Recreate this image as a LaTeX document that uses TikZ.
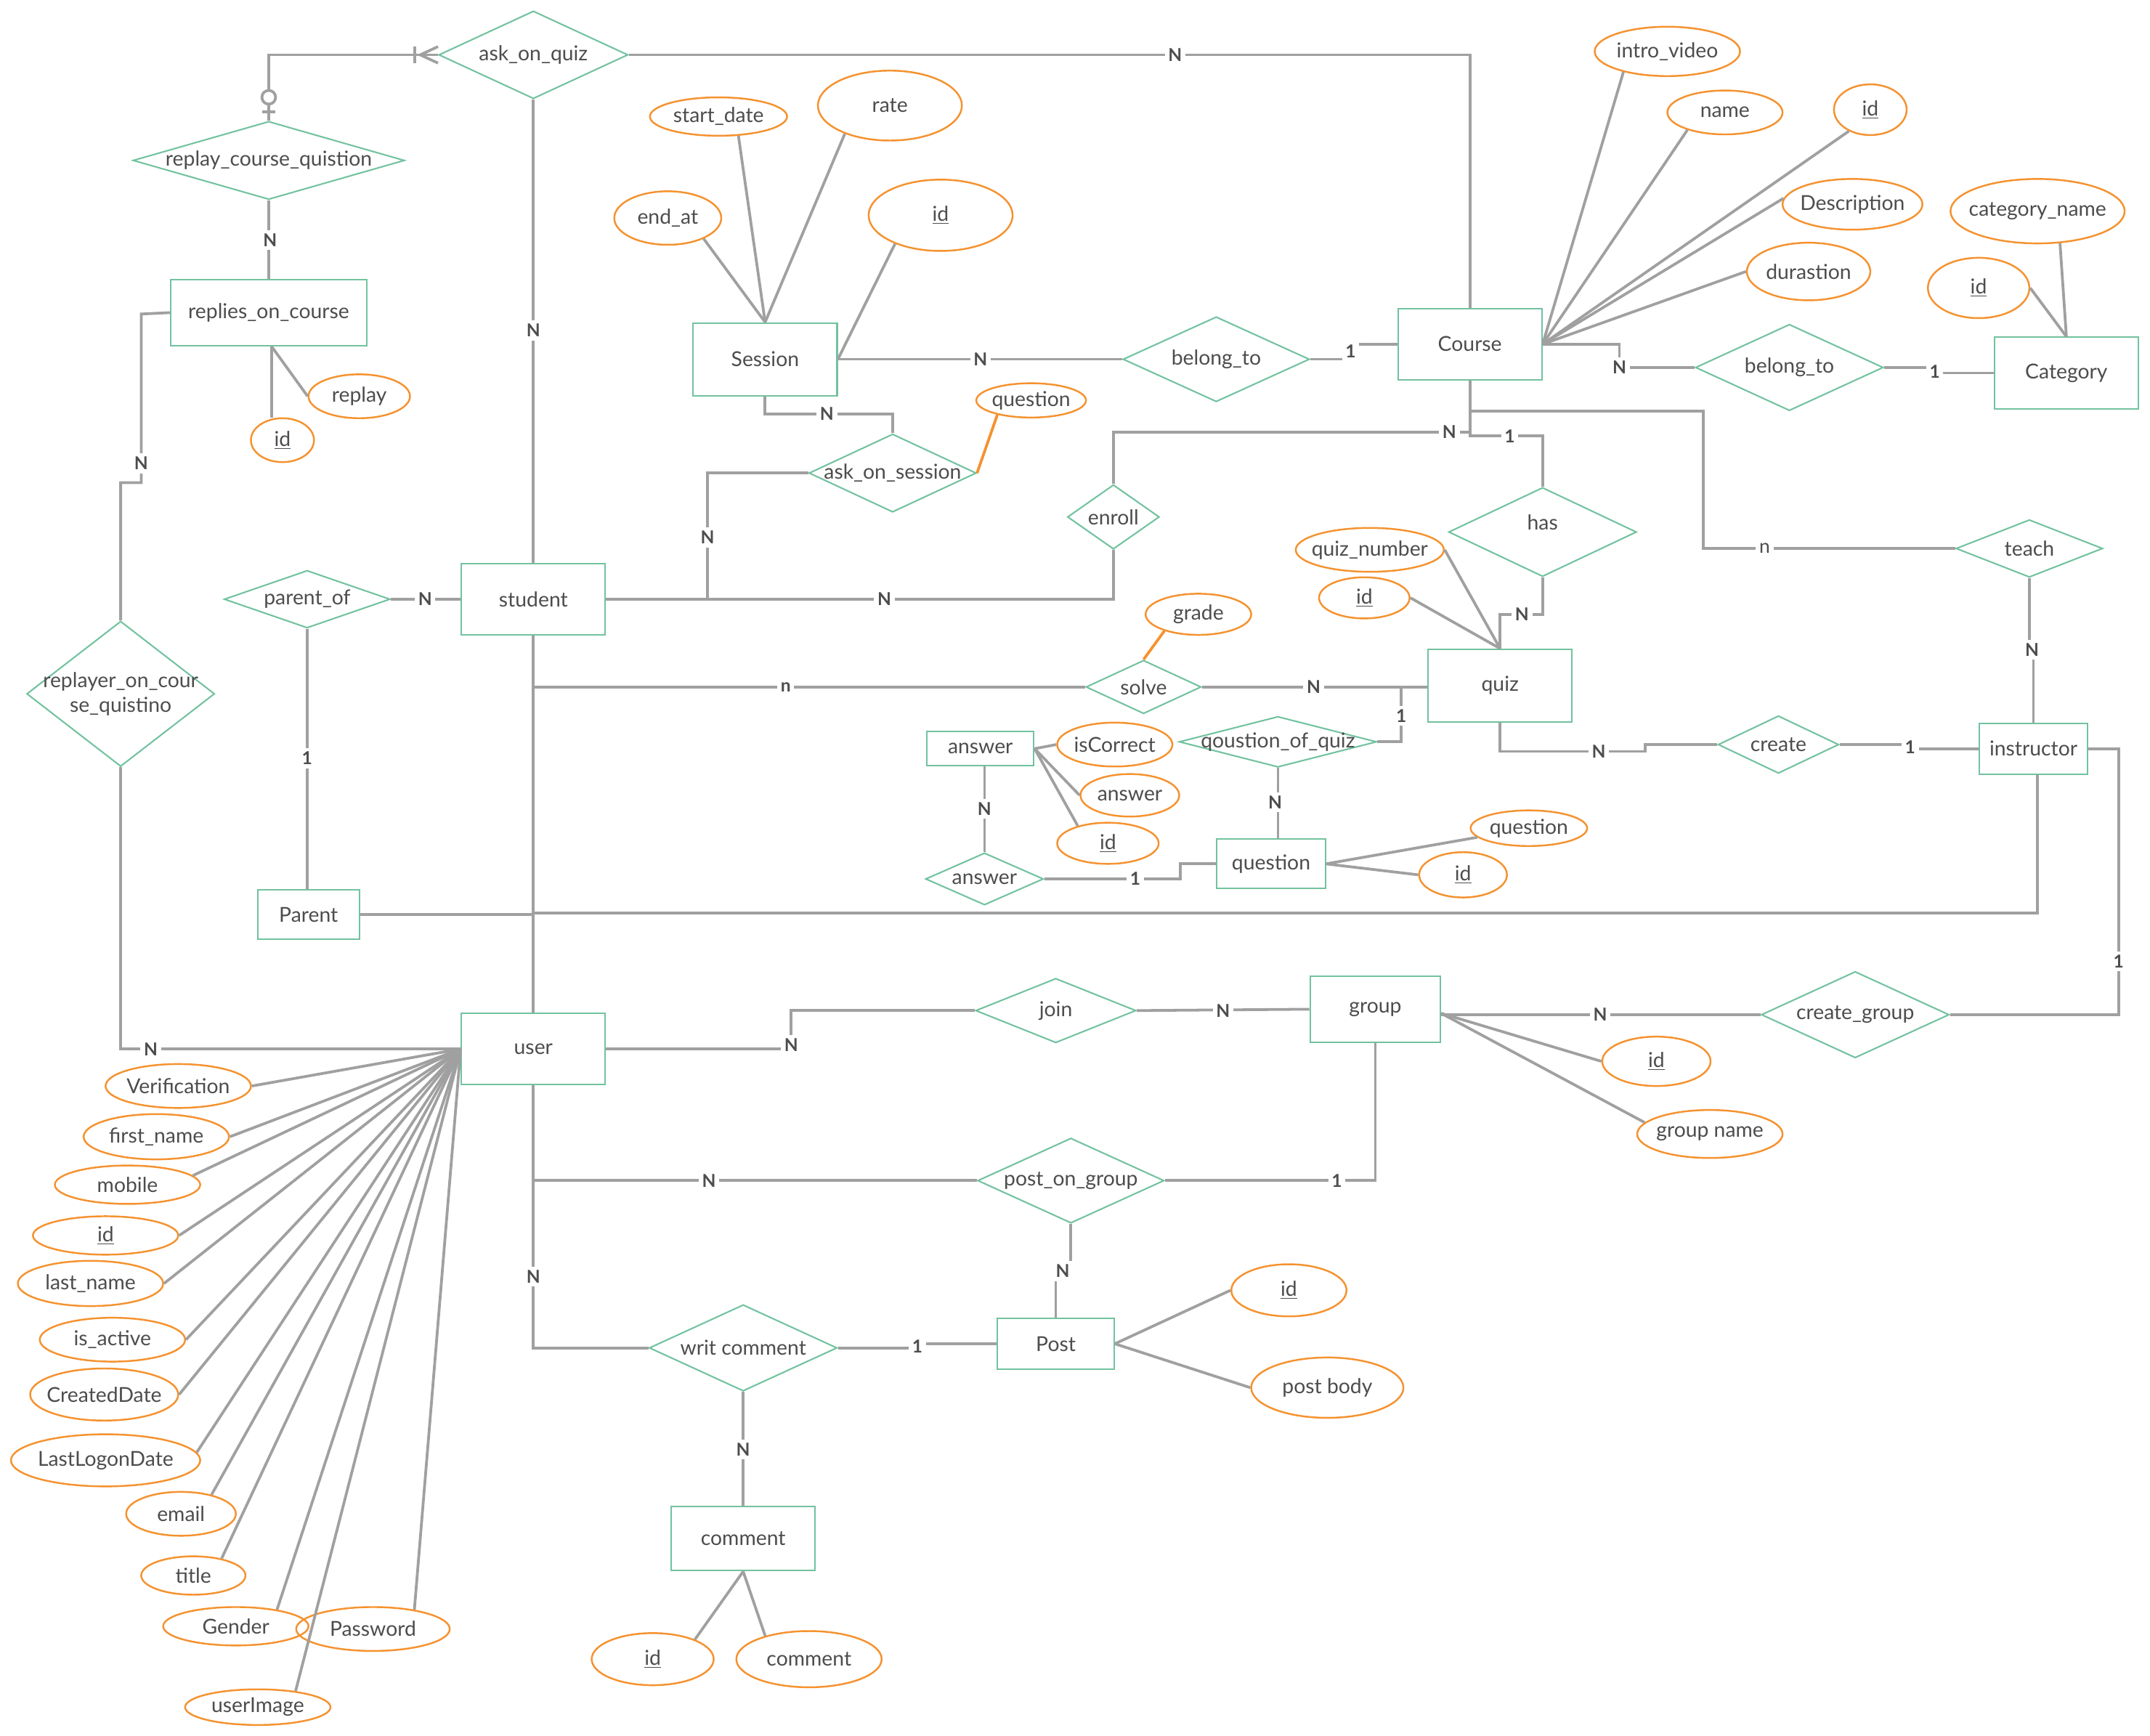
\documentclass[tikz,border=0pt]{standalone}
\usepackage{fontspec}
\setmainfont{Lato}
\usetikzlibrary{shapes.geometric}
\definecolor{eg}{HTML}{72C29F}
\definecolor{ao}{HTML}{F5922F}
\definecolor{ln}{HTML}{A0A0A0}
\definecolor{tx}{HTML}{4D4D4D}
\begin{document}
\begin{tikzpicture}[x=1pt,y=-1pt,
 every node/.style={font=\fontsize{15}{18}\selectfont, text=tx},
 ent/.style={draw=eg, line width=1.1pt, rectangle, inner sep=0pt},
 rel/.style={draw=eg, line width=1.1pt, diamond, inner sep=0pt},
 att/.style={draw=ao, line width=1.3pt, ellipse, inner sep=0pt},
 con/.style={draw=ln, line width=2pt},
 ocon/.style={draw=ao, line width=2pt},
 card/.style={fill=white, inner sep=2.5pt, font=\fontsize{13}{14}\selectfont\bfseries, text=tx},
 cardn/.style={fill=white, inner sep=2.5pt, font=\fontsize{14}{15}\selectfont, text=tx},
]
\fill[white] (0,0) rectangle (1568,1266);
\useasboundingbox (0,0) rectangle (1568,1266);

% ---------- entities ----------
\node[ent, minimum width=143, minimum height=48] (roc) at (196,228) {replies\_on\_course};
\node[ent, minimum width=105, minimum height=53] (ses) at (558,262) {Session};
\node[ent, minimum width=105, minimum height=52] (crs) at (1072,251) {Course};
\node[ent, minimum width=105, minimum height=52] (cat) at (1507,272) {Category};
\node[ent, minimum width=105, minimum height=52] (stu) at (389,437) {student};
\node[ent, minimum width=105, minimum height=53] (quiz) at (1094,500) {quiz};
\node[ent, minimum width=79, minimum height=37] (ins) at (1483,546) {instructor};
\node[ent, minimum width=78, minimum height=25] (ans) at (715,546) {answer};
\node[ent, minimum width=79, minimum height=36] (que) at (927,630) {question};
\node[ent, minimum width=74, minimum height=36] (par) at (225,667) {Parent};
\node[ent, minimum width=105, minimum height=52] (usr) at (389,765) {user};
\node[ent, minimum width=95, minimum height=48] (grp) at (1003,736) {group};
\node[ent, minimum width=85, minimum height=37] (post) at (770,980) {Post};
\node[ent, minimum width=105, minimum height=47] (cmt) at (542,1122) {comment};

% ---------- relationships ----------
\node[rel, minimum width=138, minimum height=64, label=center:{ask\_on\_quiz}] (aoq) at (389,40) {};
\node[rel, minimum width=198, minimum height=57, label=center:{replay\_course\_quistion}] (rcq) at (196,117) {};
\node[rel, minimum width=136, minimum height=62, label=center:{belong\_to}] (bt1) at (887,262) {};
\node[rel, minimum width=137, minimum height=63, label=center:{belong\_to}] (bt2) at (1305,268) {};
\node[rel, minimum width=122, minimum height=57, label=center:{ask\_on\_session}] (aos) at (651,345) {};
\node[rel, minimum width=67, minimum height=47, label=center:{enroll}] (enr) at (812,377) {};
\node[rel, minimum width=137, minimum height=65, label={[yshift=7]center:{has}}] (has) at (1125,388) {};
\node[rel, minimum width=107, minimum height=42, label=center:{teach}] (tch) at (1480,400) {};
\node[rel, minimum width=121, minimum height=42, label=center:{parent\_of}] (pof) at (224,437) {};
\node[rel, minimum width=137, minimum height=106, label={[align=center]center:{replayer\_on\_cour\\se\_quistino}}] (roq) at (88,506) {};
\node[rel, minimum width=84, minimum height=39, label=center:{solve}] (slv) at (834,501) {};
\node[rel, minimum width=144, minimum height=37, label=center:{qoustion\_of\_quiz}] (qoq) at (932,541) {};
\node[rel, minimum width=86, minimum height=38, label=center:{answer}] (arel) at (718,641) {};
\node[rel, minimum width=88, minimum height=42, label=center:{create}] (crt) at (1297,543) {};
\node[rel, minimum width=117, minimum height=47, label=center:{join}] (join) at (770,737) {};
\node[rel, minimum width=137, minimum height=63, label=center:{create\_group}] (cgp) at (1353,740) {};
\node[rel, minimum width=136, minimum height=62, label=center:{post\_on\_group}] (pog) at (781,861) {};
\node[rel, minimum width=137, minimum height=63, label=center:{writ comment}] (wc) at (542,983) {};

% ---------- attributes ----------
\node[att, minimum width=100, minimum height=28, label=center:{start\_date}] (asd) at (524,85) {};
\node[att, minimum width=105, minimum height=51, label=center:{rate}] (arate) at (649,77) {};
\node[att, minimum width=78, minimum height=39, label=center:{end\_at}] (aend) at (487,159) {};
\node[att, minimum width=105, minimum height=52, label=center:{\underline{id}}] (asid) at (686,157) {};
\node[att, minimum width=80, minimum height=25, label=center:{question}] (aq) at (752,292) {};
\node[att, minimum width=106, minimum height=36, label=center:{intro\_video}] (aiv) at (1216,37.5) {};
\node[att, minimum width=84, minimum height=32, label=center:{name}] (anm) at (1258,82) {};
\node[att, minimum width=53, minimum height=37, label=center:{\underline{id}}] (acid) at (1364,80) {};
\node[att, minimum width=102, minimum height=37, label=center:{Description}] (adesc) at (1351,149) {};
\node[att, minimum width=90, minimum height=42, label=center:{durastion}] (adur) at (1319,198) {};
\node[att, minimum width=127, minimum height=47, label=center:{category\_name}] (acn) at (1486,154) {};
\node[att, minimum width=74, minimum height=44, label=center:{\underline{id}}] (acatid) at (1443,210) {};
\node[att, minimum width=74, minimum height=32, label=center:{replay}] (arep) at (262,289) {};
\node[att, minimum width=46, minimum height=32, label=center:{\underline{id}}] (arid) at (206,321) {};
\node[att, minimum width=108, minimum height=32, label=center:{quiz\_number}] (aqn) at (999,401) {};
\node[att, minimum width=66, minimum height=30, label=center:{\underline{id}}] (aqid) at (995,436) {};
\node[att, minimum width=77, minimum height=30, label=center:{grade}] (agr) at (874,448) {};
\node[att, minimum width=84, minimum height=32, label=center:{isCorrect}] (aic) at (813,543) {};
\node[att, minimum width=72, minimum height=31, label=center:{answer}] (aan) at (824,580) {};
\node[att, minimum width=74, minimum height=30, label=center:{\underline{id}}] (aaid) at (808,615) {};
\node[att, minimum width=85, minimum height=26, label=center:{question}] (aqq) at (1115,604) {};
\node[att, minimum width=64, minimum height=33, label=center:{\underline{id}}] (aqqid) at (1067,638) {};
\node[att, minimum width=79, minimum height=36, label=center:{\underline{id}}] (agid) at (1208,774) {};
\node[att, minimum width=106, minimum height=35, label=center:{group name}] (agn) at (1247,827) {};
\node[att, minimum width=84, minimum height=38, label=center:{\underline{id}}] (apid) at (940,941) {};
\node[att, minimum width=111, minimum height=44, label=center:{post body}] (apb) at (968,1012) {};
\node[att, minimum width=89, minimum height=38, label=center:{\underline{id}}] (acmid) at (476,1210) {};
\node[att, minimum width=106, minimum height=41, label=center:{comment}] (acm) at (590,1210) {};
% user attributes
\node[att, minimum width=106, minimum height=32, label=center:{Verification}] (u1) at (130,792) {};
\node[att, minimum width=106, minimum height=33, label=center:{first\_name}] (u2) at (114,829) {};
\node[att, minimum width=106, minimum height=28, label=center:{mobile}] (u3) at (93,864) {};
\node[att, minimum width=106, minimum height=28, label=center:{\underline{id}}] (u4) at (77,901) {};
\node[att, minimum width=106, minimum height=33, label=center:{last\_name}] (u5) at (66,936) {};
\node[att, minimum width=106, minimum height=32, label=center:{is\_active}] (u6) at (82,977) {};
\node[att, minimum width=108, minimum height=38, label=center:{CreatedDate}] (u7) at (76,1017) {};
\node[att, minimum width=138, minimum height=38, label=center:{LastLogonDate}] (u8) at (77,1065) {};
\node[att, minimum width=80, minimum height=32, label=center:{email}] (u9) at (132,1104) {};
\node[att, minimum width=76, minimum height=28, label=center:{title}] (u10) at (141,1149) {};
\node[att, minimum width=106, minimum height=28, label=center:{Gender}] (u11) at (172,1186) {};
\node[att, minimum width=112, minimum height=32, label=center:{Password}] (u12) at (272,1188) {};
\node[att, minimum width=106, minimum height=26, label=center:{userImage}] (u13) at (188,1245) {};

% ---------- junction coordinates ----------
\coordinate (jn) at (389,666);
\coordinate (js) at (389,501);
\coordinate (ja) at (516,437);
\coordinate (jc) at (1072,315);
\coordinate (jt) at (1072,300);
\coordinate (jq) at (1022,501);
\coordinate (jp) at (389,861);

% ---------- attribute lines ----------
\foreach \a in {u1.east,u2.east,u3.8,u4.east,u5.east,u6.east,u7.east,u8.5,u9.32,u10.31,u11.22,u12.25,u13.23}
  \draw[con] (usr.west) -- (\a);
\foreach \a in {aiv.205,anm.205,acid.225,adesc.175,adur.west} \draw[con] (crs.east) -- (\a);
\draw[con] (ses.north) -- (aend.-30);
\draw[con] (ses.north) -- (asd.-44);
\draw[con] (ses.north) -- (arate.212);
\draw[con] (ses.east) -- (asid.212);
\draw[con] (cat.north) -- (acn.-55);
\draw[con] (cat.north) -- (acatid.east);
\draw[con] ([xshift=2]roc.south) -- ([xshift=-8]arid.north);
\draw[con] ([xshift=2]roc.south) -- (arep.west);
\draw[con] (quiz.north) -- (aqn.east);
\draw[con] (quiz.north) -- (aqid.east);
\draw[con] (ans.east) -- (aic.west);
\draw[con] (ans.east) -- (aan.west);
\draw[con] (ans.east) -- (aaid.150);
\draw[con] (que.east) -- (aqq.190);
\draw[con] (que.east) -- (aqqid.west);
\draw[con] ([yshift=-3]grp.east) -- (agid.west);
\draw[con] ([yshift=-3]grp.east) -- (agn.170);
\draw[con] (post.east) -- (apid.west);
\draw[con] (post.east) -- (apb.west);
\draw[con] (cmt.south) -- (acmid.25);
\draw[con] (cmt.south) -- (acm.152);
\draw[ocon] (slv.north) -- (agr.206);
\draw[ocon] (aos.east) -- (aq.203);

% ---------- relationship connectors ----------
\draw[con] (aoq.west) -| (rcq.north);
\draw[con] ([xshift=-13]aoq.west) -- ([yshift=6]aoq.west);
\draw[con] ([xshift=-13]aoq.west) -- ([yshift=-6]aoq.west);
\draw[con] ([xshift=-17,yshift=-6]aoq.west) -- ([xshift=-17,yshift=6]aoq.west);
\draw[con, fill=white] ([yshift=17]rcq.north) circle (5);
\draw[con] ([xshift=-5,yshift=6.5]rcq.north) -- ([xshift=5,yshift=6.5]rcq.north);
\draw[con] (aoq.east) -| (crs.north);
\draw[con] (aoq.south) -- (stu.north);
\draw[con] (rcq.south) -- (roc.north);
\draw[con] (roc.west) -- (103,229) -- (103,352) -- (88,352) -- (roq.north);
\draw[con] (roq.south) |- (usr.west);
\draw[con] (pof.east) -- (stu.west);
\draw[con] (pof.south) -- (pof.south |- par.north);
\draw[con] (par.east) -- (par.east -| jn);
\draw[con] ([xshift=3]ins.south) |- (jn);
\draw[con] (stu.south) -- (usr.north);
\draw[con] (js) -- (slv.west);
\draw[con] (slv.east) -- (slv.east -| quiz.west);
\draw[con] (stu.east) -| (enr.south);
\draw[con] (ja) |- (aos.west);
\draw[con] (enr.north) |- (jc);
\draw[con] (crs.south) -- (1072,318) -| (has.north);
\draw[con] (jt) -| (1242,400) -- (tch.west);
\draw[con] (has.south) -- (1125,448) -| (quiz.north);
\draw[con] (jq) |- (qoq.east);
\draw[con] (qoq.south) -- (qoq.south |- que.north);
\draw[con] (arel.north |- ans.south) -- (arel.north);
\draw[con] (arel.east) -- (861,641) |- (que.west);
\draw[con] (quiz.south) |- (1200,548) |- (crt.west);
\draw[con] (crt.east) -- (1393,543) |- (ins.west);
\draw[con] (tch.south) -- (1480,474) -| (ins.north);
\draw[con] (ins.east) -- (1545,546) |- (cgp.east);
\draw[con] (cgp.west) -- (cgp.west -| grp.east);
\draw[con] (usr.east) -- (577,765) |- (join.west);
\draw[con] (join.east) -- (grp.west);
\draw[con] (jp) -- (pog.west);
\draw[con] (pog.east) -| (grp.south);
\draw[con] (pog.south) -- (781,927) -| (post.north);
\draw[con] (usr.south) |- (wc.west);
\draw[con] (wc.east) -- (669,983) |- (post.west);
\draw[con] (wc.south) -- (cmt.north);
\draw[con] (ses.east) -- (bt1.west);
\draw[con] (bt1.east) -- (985,262) |- (crs.west);
\draw[con] (ses.south) -- (558,302) -| (aos.north);
\draw[con] (crs.east) -- (1181,251) |- (bt2.west);
\draw[con] (bt2.east) -- (1411,268) |- (cat.west);

% ---------- cardinality labels ----------
\node[card] (c1) at (857,40) {N};
\node[card] (c2) at (389,241) {N};
\node[card] (c3) at (197,175) {N};
\node[card] (c4) at (103,338) {N};
\node[card] (c5) at (110,765) {N};
\node[card] (c6) at (310,437) {N};
\node[card] (c7) at (224,553) {1};
\node[card] (c8) at (573,501) {n};
\node[card] (c9) at (958,501) {N};
\node[card] (c10) at (645,437) {N};
\node[card] (c11) at (516,392) {N};
\node[card] (c12) at (1057,315) {N};
\node[card] (c13) at (1101,318) {1};
\node[cardn] (c14) at (1287,400) {n};
\node[card] (c15) at (1110,448) {N};
\node[card] (c16) at (1022,522) {1};
\node[card] (c17) at (930,585) {N};
\node[card] (c18) at (718,590) {N};
\node[card] (c19) at (828,641) {1};
\node[card] (c20) at (1166,548) {N};
\node[card] (c21) at (1393,545) {1};
\node[card] (c22) at (1482,474) {N};
\node[card] (c23) at (1545,701) {1};
\node[card] (c24) at (1167,740) {N};
\node[card] (c25) at (577,762) {N};
\node[card] (c26) at (892,737) {N};
\node[card] (c27) at (517,861) {N};
\node[card] (c28) at (975,861) {1};
\node[card] (c29) at (775,927) {N};
\node[card] (c30) at (389,931) {N};
\node[card] (c31) at (669,982) {1};
\node[card] (c32) at (542,1057) {N};
\node[card] (c33) at (715,262) {N};
\node[card] (c34) at (985,256) {1};
\node[card] (c35) at (603,302) {N};
\node[card] (c36) at (1181,268) {N};
\node[card] (c37) at (1411,271) {1};
\end{tikzpicture}
\end{document}
